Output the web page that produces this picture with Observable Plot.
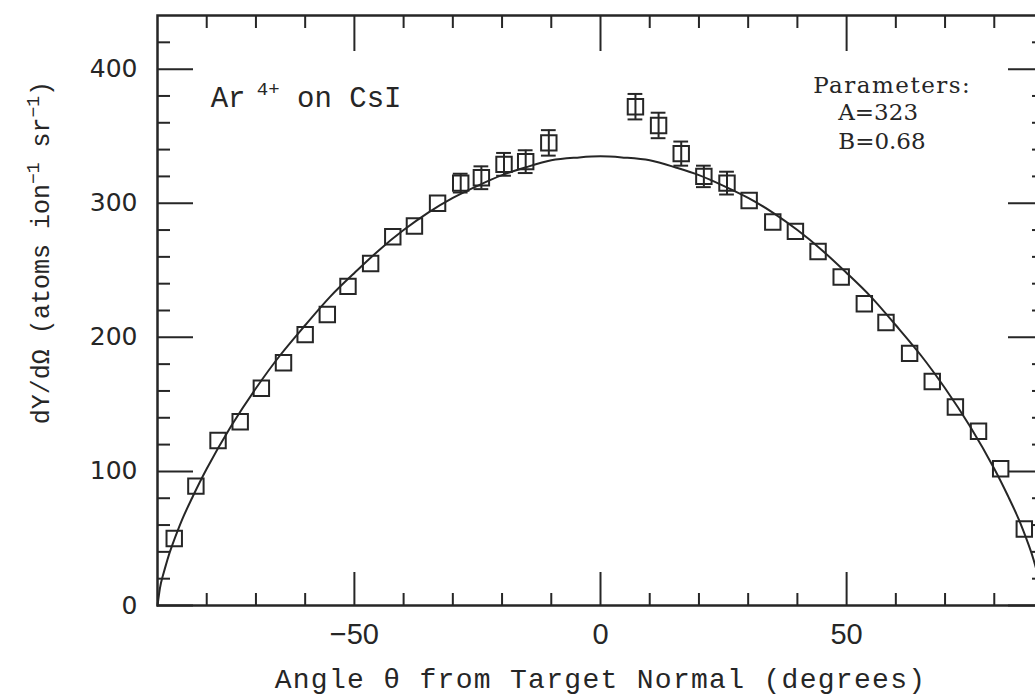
<!DOCTYPE html>
<html><head><meta charset="utf-8">
<script src="https://cdn.jsdelivr.net/npm/d3@7"></script>
<script src="https://cdn.jsdelivr.net/npm/@observablehq/plot@0.6"></script>
<style>
html,body{margin:0;padding:0;background:#fff;overflow:hidden;}
#chart svg{display:block;}
</style></head><body><div id="chart"></div>
<script>
// Measured sputtering yield data (angle in degrees, yield in atoms ion^-1 sr^-1)
const angles = [-86.6, -82.2, -77.7, -73.2, -68.9, -64.4, -60.0, -55.5, -51.3, -46.7, -42.2, -37.8, -33.1,
                30.2, 35.0, 39.6, 44.2, 48.9, 53.6, 58.0, 62.8, 67.4, 72.1, 76.8, 81.3, 86.1];
const yields = [50, 89, 123, 137, 162, 181, 202, 217, 238, 255, 275, 283, 300,
                302, 286, 279, 264, 245, 225, 211, 188, 167, 148, 130, 102, 57];
// points drawn with error bars
const errAngles = [-28.4, -24.2, -19.6, -15.2, -10.5, 7.1, 11.8, 16.4, 21.0, 25.7];
const errYields = [315, 319, 329, 331, 345, 372, 358, 337, 320, 315];
const errSizes  = [7, 8.5, 8.5, 8.5, 9.5, 9.5, 9.5, 9, 8, 8.5];
// fitted curve
const fitAngles = [-90, -89.5, -89, -88, -87, -85, -83, -80, -75, -70, -65, -60, -55, -50, -45, -40, -35, -30, -25, -20, -15, -10, -5, 0,
                   5, 10, 15, 20, 25, 30, 35, 40, 45, 50, 55, 60, 65, 70, 75, 80, 83, 85, 87, 88, 89, 89.5, 90];
const fitYields = [0, 13, 21, 34, 45, 64, 80, 102, 134, 162, 187, 209, 230, 248, 265, 280, 293, 304, 313, 321, 327, 332, 334, 335,
                   334, 332, 327, 321, 313, 304, 293, 280, 265, 248, 230, 209, 187, 162, 134, 102, 80, 64, 45, 34, 21, 13, 0];
const xMajorTicks = [-50, 0, 50];
const xMinorTicks = [-80, -70, -60, -40, -30, -20, -10, 10, 20, 30, 40, 60, 70, 80];
const yMajorTicks = [0, 100, 200, 300, 400];
const yMinorTicks = [20, 40, 60, 80, 120, 140, 160, 180, 220, 240, 260, 280, 320, 340, 360, 380, 420];
const titleText = "Ar⁴⁺ on CsI";
const xTitle = "Angle θ from Target Normal (degrees)";
const yTitle = "dY/dΩ (atoms ion⁻¹ sr⁻¹)";
const annotations = [
  {label: titleText, angle: -79.2, value: 371.8, kind: "title"},
  {label: "Parameters:", angle: 43.2, value: 382.3, kind: "param"},
  {label: "A=323", angle: 48.3, value: 361.9, kind: "param"},
  {label: "B=0.68", angle: 48.3, value: 340.8, kind: "param"}
];

const points = angles.map((a, i) => ({angle: a, y: yields[i]}));
const errPoints = errAngles.map((a, i) => ({angle: a, y: errYields[i], e: errSizes[i]}));
const fit = fitAngles.map((a, i) => ({angle: a, y: fitYields[i]}));

const ink = "#262626";
const mono = "'Liberation Mono', 'DejaVu Sans Mono', monospace";
const serif = "'DejaVu Serif', serif";
const blank = () => "";

const chart = Plot.plot({
  width: 1035, height: 696,
  marginLeft: 157, marginRight: -8, marginTop: 15, marginBottom: 91,
  x: {domain: [-90, 90], label: null},
  y: {domain: [0, 440], label: null},
  style: {background: "white", color: ink},
  marks: [
    Plot.axisX({anchor: "bottom", ticks: xMajorTicks, tickSize: -33, tickFormat: blank, strokeWidth: 2, stroke: ink}),
    Plot.axisX({anchor: "bottom", ticks: xMinorTicks, tickSize: -12, tickFormat: blank, strokeWidth: 2, stroke: ink}),
    Plot.axisX({anchor: "top", ticks: xMajorTicks, tickSize: -35, tickFormat: blank, strokeWidth: 2, stroke: ink}),
    Plot.axisX({anchor: "top", ticks: xMinorTicks, tickSize: -12, tickFormat: blank, strokeWidth: 2, stroke: ink}),
    Plot.axisY({anchor: "left", ticks: yMajorTicks, tickSize: -36, tickFormat: blank, strokeWidth: 2, stroke: ink}),
    Plot.axisY({anchor: "left", ticks: yMinorTicks, tickSize: -13, tickFormat: blank, strokeWidth: 2, stroke: ink}),
    Plot.axisY({anchor: "right", ticks: yMajorTicks, tickSize: -36, tickFormat: blank, strokeWidth: 2, stroke: ink}),
    Plot.axisY({anchor: "right", ticks: yMinorTicks, tickSize: -12, tickFormat: blank, strokeWidth: 2, stroke: ink}),
    Plot.axisX({anchor: "bottom", ticks: xMajorTicks, tickSize: 0, tickPadding: 18, fontSize: 29,
                fontFamily: "'Liberation Sans', Arial, sans-serif", fill: ink}),
    Plot.axisY({anchor: "left", ticks: yMajorTicks, tickSize: 0, tickPadding: 20, fontSize: 25,
                fontFamily: "'DejaVu Sans', sans-serif", fill: ink}),
    Plot.frame({stroke: ink, strokeWidth: 2.5}),
    Plot.line(fit, {x: "angle", y: "y", curve: "natural", stroke: ink, strokeWidth: 2}),
    Plot.ruleX(errPoints, {x: "angle", y1: d => d.y - d.e, y2: d => d.y + d.e, stroke: ink, strokeWidth: 2}),
    Plot.ruleY(errPoints, {y: d => d.y + d.e, x1: d => d.angle - 1.5, x2: d => d.angle + 1.5, stroke: ink, strokeWidth: 2}),
    Plot.ruleY(errPoints, {y: d => d.y - d.e, x1: d => d.angle - 1.5, x2: d => d.angle + 1.5, stroke: ink, strokeWidth: 2}),
    Plot.dot(points.concat(errPoints), {x: "angle", y: "y", symbol: "square", r: 8.7, stroke: ink, strokeWidth: 2, fill: "none"}),
    Plot.text(annotations.filter(d => d.kind === "title"), {x: "angle", y: "value", text: "label", textAnchor: "start",
                lineAnchor: "bottom", fontSize: 29, fontFamily: mono, fill: ink}),
    Plot.text(annotations.filter(d => d.kind === "param"), {x: "angle", y: "value", text: "label", textAnchor: "start",
                lineAnchor: "bottom", fontSize: 23, fontFamily: serif, fill: ink}),
    Plot.text([xTitle], {frameAnchor: "bottom", dy: 82, lineAnchor: "bottom", textAnchor: "middle",
                fontSize: 28, fontFamily: mono, fill: ink}),
    Plot.text([yTitle], {frameAnchor: "left", rotate: -90, dx: -117, dy: -58, textAnchor: "middle", lineAnchor: "middle",
                fontSize: 25, fontFamily: mono, fill: ink})
  ]
});
document.getElementById("chart").appendChild(chart);

function byText(str) {
  return d3.select(chart).selectAll("text").filter(function() { return this.textContent === str; });
}
// rebuild a text as tspans with real superscripts
function richify(str, parts, supSize, rise) {
  byText(str).each(function() {
    const t = d3.select(this);
    t.text(null);
    let raised = false;
    parts.forEach(p => {
      const ts = t.append("tspan").text(p.t);
      if (p.sup && !raised) { ts.attr("dy", -rise).attr("font-size", supSize); raised = true; }
      else if (p.sup) { ts.attr("font-size", supSize); }
      else if (raised) { ts.attr("dy", rise); raised = false; }
    });
  });
}
byText(xTitle).attr("letter-spacing", "1.3px");
byText("Parameters:").attr("letter-spacing", "1.5px");
richify(titleText, [{t: "Ar"}, {t: " 4+", sup: true}, {t: " on CsI"}], 19, 12);
richify(yTitle, [{t: "dY/dΩ (atoms ion"}, {t: "−1", sup: true}, {t: " sr"}, {t: "−1", sup: true}, {t: ")"}], 18, 10);
</script></body></html>
